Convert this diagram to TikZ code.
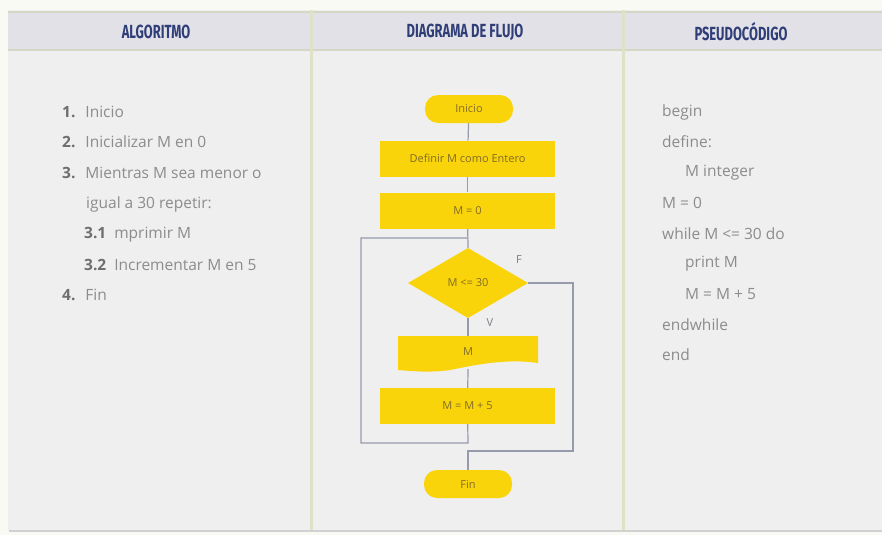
\documentclass[tikz,border=0pt]{standalone}
\usepackage{fontspec}
\setmainfont{Open Sans}
\newfontfamily\hfont{Fira Sans}
\usetikzlibrary{backgrounds}
\definecolor{pagebg}{RGB}{250,250,244}
\definecolor{panelbg}{RGB}{239,239,239}
\definecolor{headbg}{RGB}{226,225,231}
\definecolor{headline}{RGB}{214,214,196}
\definecolor{divider}{RGB}{224,226,200}
\definecolor{navy}{RGB}{48,62,120}
\definecolor{txt}{RGB}{140,140,140}
\definecolor{num}{RGB}{110,110,110}
\definecolor{fyellow}{RGB}{250,212,10}
\definecolor{ftext}{RGB}{128,108,40}
\definecolor{conn}{RGB}{150,155,172}
\tikzset{
  htitle/.style={font=\hfont\bfseries\fontsize{19}{19}\selectfont, text=navy, inner sep=0pt},
  ltext/.style={font=\fontsize{15.5}{16}\selectfont, text=txt, anchor=west, inner sep=0pt},
  procbox/.style={fill=fyellow, minimum width=175pt, minimum height=36pt, inner sep=0pt,
     font=\fontsize{11}{12}\selectfont, text=ftext},
  term/.style={fill=fyellow, rounded corners=13pt, minimum width=88pt, minimum height=28pt, inner sep=0pt,
     font=\fontsize{11}{12}\selectfont, text=ftext},
  decis/.style={inner sep=0pt, font=\fontsize{11}{12}\selectfont, text=ftext},
  cline/.style={draw=conn, line width=1.2pt},
  flab/.style={font=\fontsize{11}{11}\selectfont, text=conn!80!black, inner sep=0pt}
}
\begin{document}
\begin{tikzpicture}[x=1pt,y=-1pt]
\useasboundingbox (0,0) rectangle (882,535);
% nodes
\node[term] (ini) at (469,109) {Inicio};
\node[procbox] (def) at (467.5,158.5) {Definir M como Entero};
\node[procbox] (m0) at (467.5,210.5) {M = 0};
% decision diamond
\fill[fyellow] (468,248) -- (528,283) -- (468,318) -- (408,283) -- cycle;
\node[decis] (dec) at (468,283) {M <= 30};
\coordinate (decN) at (468,248);
\coordinate (decS) at (468,318);
\coordinate (decE) at (528,283);
% print (document shape)
\fill[fyellow] (398,336) -- (538,336) -- (538,363) .. controls (505,358) and (470,366) .. (450,370) .. controls (430,373) and (410,371) .. (398,370) -- cycle;
\node[decis] (prt) at (468,352) {M};
\coordinate (prtN) at (468,336);
\coordinate (prtS) at (468,369);
\node[procbox] (mm5) at (467.5,406) {M = M + 5};
\node[term] (fin) at (468,484) {Fin};
\node[flab] (lf) at (519,260) {F};
\node[flab] (lv) at (490,323) {V};
\coordinate (j) at (468,238);
\coordinate (lb) at (468,443);
\coordinate (ll) at (361,443);
\coordinate (lt) at (361,238);
\coordinate (fr) at (573,283);
\coordinate (fb) at (573,451);
\coordinate (fc) at (468,451);
% titles
\node[htitle] (t1) at (156,32) {\scalebox{0.68}[1]{ALGORITMO}};
\node[htitle] (t2) at (465,32) {\scalebox{0.68}[1]{DIAGRAMA DE FLUJO}};
\node[htitle] (t3) at (741,32) {\scalebox{0.68}[1]{PSEUDOCÓDIGO}};
% left column
\node[ltext] (a1) at (62,112) {{\color{num}\bfseries 1.}\hspace{10pt}Inicio};
\node[ltext] (a2) at (62,142) {{\color{num}\bfseries 2.}\hspace{10pt}Inicializar M en 0};
\node[ltext] (a3) at (62,173) {{\color{num}\bfseries 3.}\hspace{10pt}Mientras M sea menor o};
\node[ltext] (a4) at (86,204) {igual a 30 repetir:};
\node[ltext] (a5) at (84,235) {{\color{num}\bfseries 3.1}\hspace{8pt}mprimir M};
\node[ltext] (a6) at (84,265) {{\color{num}\bfseries 3.2}\hspace{8pt}Incrementar M en 5};
\node[ltext] (a7) at (62,295) {{\color{num}\bfseries 4.}\hspace{10pt}Fin};
% right column
\node[ltext] (p1) at (662,112) {begin};
\node[ltext] (p2) at (662,142) {define:};
\node[ltext] (p3) at (685,173) {M integer};
\node[ltext] (p4) at (662,203) {M = 0};
\node[ltext] (p5) at (662,234) {while M <= 30 do};
\node[ltext] (p6) at (685,264) {print M};
\node[ltext] (p7) at (685,294) {M = M + 5};
\node[ltext] (p8) at (662,325) {endwhile};
\node[ltext] (p9) at (662,355) {end};
\begin{scope}[on background layer]
  \fill[pagebg] (0,0) rectangle (882,535);
  \fill[black!18] (9,12) rectangle (882,532);
  \fill[panelbg] (8,10) rectangle (882,530);
  \fill[headbg] (8,12) rectangle (882,50);
  \draw[headline, line width=1.5pt] (8,12) -- (882,12);
  \draw[headline, line width=1.5pt] (8,50) -- (882,50);
  \draw[divider, line width=3pt] (311,10) -- (311,530);
  \draw[divider, line width=3pt] (623,10) -- (623,530);
  % connectors
  \draw[cline] (ini) -- (def);
  \draw[cline] (def) -- (m0);
  \draw[cline] (m0) -- (decN);
  \draw[cline] (decS) -- (prtN);
  \draw[cline] (prtS) -- (mm5);
  \draw[cline] (mm5) -- (lb) -- (ll) -- (lt) -- (j);
  \draw[cline] (decE) -- (fr) -- (fb) -- (fc) -- (fin);
\end{scope}
\end{tikzpicture}
\end{document}
